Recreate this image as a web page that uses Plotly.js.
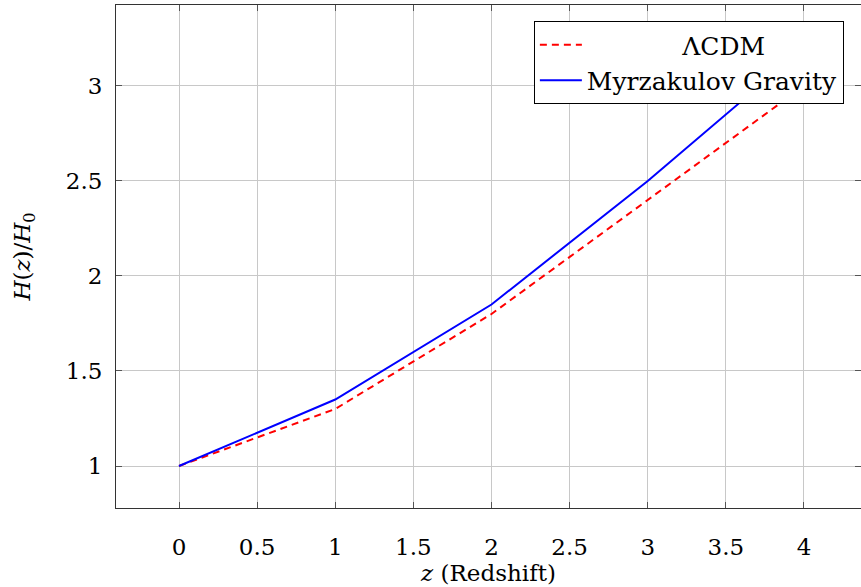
<!DOCTYPE html>
<html><head><meta charset="utf-8">
<script src="https://cdn.plot.ly/plotly-3.0.1.min.js"></script>
<style>html,body{margin:0;padding:0;background:#fff}#chart{width:861px;height:587px}</style>
</head><body><div id="chart"></div>
<script>
const redshift = [0, 1, 2, 3, 4];
const lcdm = [1, 1.3, 1.8, 2.4, 3.0];
const myrzakulov = [1, 1.35, 1.85, 2.5, 3.2];
const lcdmName = '\u00A0\u00A0\u00A0\u00A0\u00A0\u00A0\u00A0\u00A0\u00A0\u00A0\u00A0\u00A0ΛCDM';
const myrzName = 'Myrzakulov Gravity';
const xTicks = [0, 0.5, 1, 1.5, 2, 2.5, 3, 3.5, 4];
const yTicks = [1, 1.5, 2, 2.5, 3];

const font = {family: '"DejaVu Serif", "Liberation Serif", serif', size: 23, color: '#000'};
const legendFont = Object.assign({}, font, {size: 25});
const traces = [
  {x: redshift, y: lcdm, name: lcdmName, mode: 'lines', line: {color: '#ff0000', width: 2, dash: '7px,5px'}},
  {x: redshift, y: myrzakulov, name: myrzName, mode: 'lines', line: {color: '#0000ff', width: 2}}
];
const axisCommon = {
  showline: true, linecolor: '#333', linewidth: 1, mirror: 'allticks',
  ticks: 'inside', ticklen: 6, tickcolor: '#555', tickwidth: 1,
  showgrid: true, gridcolor: '#c8c8c8', gridwidth: 1, zeroline: false,
  tickfont: font
};
const layout = {
  width: 861, height: 587,
  margin: {l: 116, r: 0, t: 5, b: 79},
  paper_bgcolor: '#fff', plot_bgcolor: '#fff',
  font: font,
  showlegend: true,
  legend: {x: 0.977, y: 0.968, xanchor: 'right', yanchor: 'top', bgcolor: '#fff',
           bordercolor: '#000', borderwidth: 1, font: legendFont, tracegroupgap: 0,
           itemwidth: 42},
  xaxis: Object.assign({}, axisCommon, {
    range: [-0.4032, 4.365], tickvals: xTicks, ticktext: xTicks.map(String),
    ticklabelstandoff: 18,
    title: {text: '<i>z</i> (Redshift)', font: font, standoff: 0}
  }),
  yaxis: Object.assign({}, axisCommon, {
    range: [0.779, 3.426], tickvals: yTicks, ticktext: yTicks.map(String),
    ticklabelstandoff: 8,
    title: {text: '<i>H</i>(<i>z</i>)/<i>H</i><sub>0</sub>', font: font, standoff: 28}
  })
};
Plotly.newPlot('chart', traces, layout, {staticPlot: true, displayModeBar: false});
</script></body></html>
